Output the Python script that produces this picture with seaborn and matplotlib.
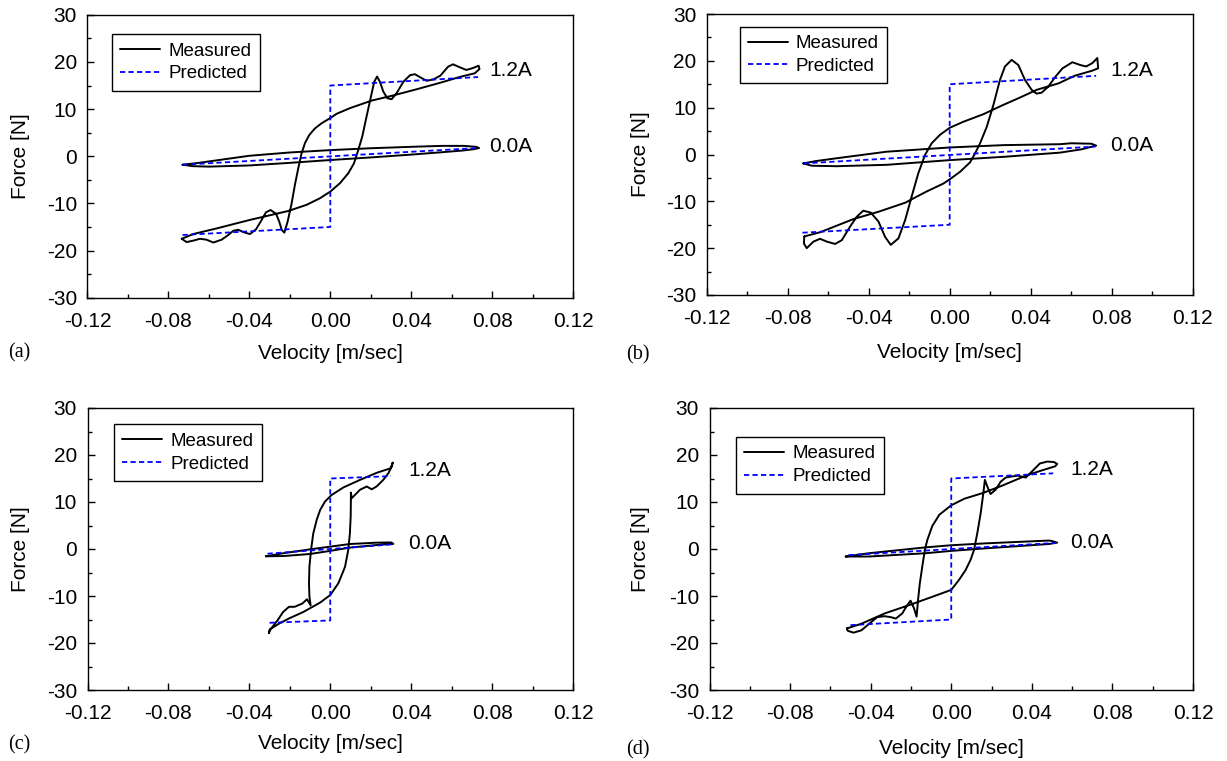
import matplotlib
matplotlib.use("Agg")
import matplotlib.pyplot as plt
from matplotlib.ticker import MultipleLocator, FormatStrFormatter
import seaborn as sns

# ---------------- panel (a): amplitude 0.073 m/s ----------------
a_meas12_v = [-0.0734, -0.0677, -0.0561, -0.0397, -0.0207, -0.0117, -0.0051, 0.0, 0.0048, 0.0089,
              0.0117, 0.0138, 0.0158, 0.0179, 0.0201, 0.0217, 0.0231, 0.0245, 0.0262, 0.0282,
              0.0303, 0.0328, 0.0361, 0.0394, 0.0418, 0.0446, 0.0476, 0.0509, 0.0544, 0.0582,
              0.0606, 0.0638, 0.0672, 0.0704, 0.0733, 0.0737,
              0.0714, 0.0638, 0.0544, 0.0426, 0.0311, 0.0204, 0.0097, 0.0031, 0.0, -0.0043,
              -0.0076, -0.0104, -0.0125, -0.0142, -0.0158, -0.0175, -0.0191, -0.0211, -0.0227, -0.0240,
              -0.0252, -0.0268, -0.0295, -0.0318, -0.0339, -0.0367, -0.0397, -0.0422, -0.0455, -0.0479,
              -0.0504, -0.0537, -0.0578, -0.0611, -0.0644, -0.0677, -0.0710, -0.0734]
a_meas12_f = [-17.5, -16.5, -15.3, -13.5, -11.6, -10.3, -8.9, -7.5, -5.7, -3.6,
              -1.5, 1.3, 4.2, 8.4, 12.7, 15.8, 16.9, 15.8, 13.7, 12.3,
              12.1, 13.4, 15.8, 17.2, 17.4, 16.7, 16.0, 16.3, 17.1, 19.0,
              19.5, 18.9, 18.3, 18.7, 19.2, 18.5,
              17.6, 16.8, 15.6, 14.2, 12.9, 11.8, 10.2, 9.0, 8.1, 7.0,
              5.9, 4.5, 2.8, 0.6, -2.5, -6.1, -10.0, -13.9, -16.2, -15.6,
              -13.9, -12.2, -11.4, -11.9, -13.5, -15.5, -16.5, -16.2, -15.6, -15.8,
              -16.7, -17.7, -18.3, -17.7, -17.5, -17.9, -18.2, -17.5]
a_meas00_v = [-0.0730, -0.068, -0.060, -0.040, -0.020, 0.0, 0.020, 0.040, 0.055, 0.065, 0.071, 0.0735,
              0.072, 0.066, 0.055, 0.040, 0.020, 0.0, -0.020, -0.040, -0.055, -0.065, -0.0730]
a_meas00_f = [-1.8, -2.1, -2.2, -1.95, -1.4, -0.8, -0.25, 0.35, 0.85, 1.2, 1.5, 1.75,
              2.0, 2.2, 2.2, 2.0, 1.7, 1.3, 0.8, 0.1, -0.8, -1.4, -1.8]
a_pred12_v = [-0.073, 0.0, 0.0, 0.073]
a_pred12_f = [-16.7, -15.0, 15.0, 16.8]
a_pred00_v = [-0.073, 0.073]
a_pred00_f = [-1.8, 1.75]

# ---------------- panel (b): amplitude 0.072 m/s ----------------
b_meas12_v = [-0.0718, -0.0640, -0.0476, -0.0350, -0.0220, -0.0114, -0.0031, 0.0, 0.0051, 0.0100,
              0.0125, 0.0150, 0.0183, 0.0216, 0.0248, 0.0273, 0.0306, 0.0339, 0.0372, 0.0405,
              0.0429, 0.0454, 0.0487, 0.0520, 0.0557, 0.0606, 0.0645, 0.0674, 0.0704, 0.0729, 0.0733,
              0.0704, 0.0616, 0.0538, 0.0429, 0.0344, 0.0265, 0.0166, 0.0068, 0.0, -0.0048,
              -0.0089, -0.0122, -0.0155, -0.0188, -0.0220, -0.0253, -0.0291, -0.0319, -0.0352, -0.0390,
              -0.0427, -0.0459, -0.0492, -0.0533, -0.0566, -0.0607, -0.0640, -0.0673, -0.0706, -0.0720,
              -0.0718]
b_meas12_f = [-17.5, -16.6, -13.8, -12.2, -10.3, -7.9, -6.2, -5.3, -3.7, -1.7,
              0.2, 2.4, 5.9, 10.6, 15.9, 18.8, 20.2, 19.1, 15.9, 13.8,
              13.0, 13.2, 14.5, 16.5, 18.4, 19.7, 19.1, 18.8, 19.5, 20.6, 18.4,
              17.9, 16.8, 15.2, 13.8, 12.1, 10.6, 8.6, 7.0, 5.7, 4.2,
              2.4, -0.1, -4.0, -9.0, -14.0, -17.9, -19.3, -17.6, -14.3, -12.4,
              -12.0, -13.3, -15.4, -18.3, -19.1, -18.6, -18.0, -18.6, -20.0, -19.0,
              -17.5]
b_meas00_v = [-0.0723, -0.068, -0.0558, -0.031, 0.0, 0.0265, 0.0545, 0.065, 0.0723,
              0.070, 0.060, 0.0545, 0.0265, 0.0, -0.0311, -0.0558, -0.066, -0.0723]
b_meas00_f = [-1.9, -2.4, -2.5, -2.2, -1.2, -0.5, 0.4, 1.1, 1.9,
              2.3, 2.4, 2.2, 2.0, 1.5, 0.6, -0.8, -1.4, -1.9]
b_pred12_v = [-0.0727, 0.0, 0.0, 0.0723]
b_pred12_f = [-16.7, -15.0, 15.0, 16.8]
b_pred00_v = [-0.072, 0.072]
b_pred00_f = [-1.9, 1.7]

# ---------------- panel (c): amplitude 0.031 m/s ----------------
c_meas12_v = [-0.0303, -0.0299, -0.0250, -0.0200, -0.0133, -0.0050, 0.0, 0.0040, 0.0073, 0.0089,
              0.0097, 0.0101, 0.0102, 0.0102, 0.0106, 0.0122, 0.0147, 0.0180, 0.0205, 0.0229,
              0.0262, 0.0287, 0.0303, 0.0309,
              0.0300, 0.0229, 0.0147, 0.0065, 0.0007, -0.0026, -0.0050, -0.0067, -0.0084, -0.0095,
              -0.0103, -0.0105, -0.0103, -0.0097, -0.0115, -0.0138, -0.0176, -0.0204, -0.0233, -0.0261,
              -0.0299, -0.0303]
c_meas12_f = [-17.9, -17.1, -15.8, -14.7, -13.4, -11.4, -9.8, -7.3, -3.8, -0.2,
              3.3, 6.9, 10.4, 12.0, 10.8, 11.5, 12.6, 13.3, 12.7, 13.3,
              14.7, 16.1, 17.5, 18.4,
              17.2, 16.2, 14.7, 13.1, 11.5, 10.1, 8.3, 6.2, 3.3, -0.2,
              -3.8, -7.3, -10.1, -12.0, -10.7, -11.6, -12.3, -12.3, -13.4, -15.2,
              -17.3, -17.9]
c_meas00_v = [-0.0318, -0.0232, -0.010, 0.0, 0.0097, 0.023, 0.0312,
              0.030, 0.023, 0.0097, 0.0, -0.010, -0.0232, -0.0318]
c_meas00_f = [-1.55, -1.5, -1.06, -0.4, 0.3, 0.85, 1.1,
              1.4, 1.35, 1.06, 0.5, -0.07, -0.9, -1.55]
c_pred12_v = [-0.030, 0.0, 0.0, 0.030]
c_pred12_f = [-15.7, -15.2, 15.0, 15.5]
c_pred00_v = [-0.031, 0.031]
c_pred00_f = [-1.0, 1.0]

# ---------------- panel (d): amplitude 0.052 m/s ----------------
d_meas12_v = [-0.0518, -0.0446, -0.0330, -0.0213, -0.0096, 0.0, 0.0038, 0.0071, 0.0096, 0.0113,
              0.0129, 0.0146, 0.0159, 0.0167, 0.0179, 0.0195, 0.0220, 0.0245, 0.0270, 0.0295,
              0.0331, 0.0370, 0.0410, 0.0440, 0.0477, 0.0510, 0.0526,
              0.0516, 0.0448, 0.0370, 0.0254, 0.0156, 0.0065, 0.0, -0.0059, -0.0094, -0.0119,
              -0.0131, -0.0144, -0.0156, -0.0165, -0.0172, -0.0185, -0.0202, -0.0218, -0.0243, -0.0275,
              -0.0300, -0.0330, -0.0368, -0.0407, -0.0446, -0.0485, -0.0514, -0.0518]
d_meas12_f = [-16.9, -15.9, -13.7, -12.0, -10.2, -8.7, -6.6, -4.5, -2.3, -0.2,
              3.3, 7.6, 11.8, 14.7, 13.3, 11.7, 12.6, 14.3, 15.2, 15.4,
              15.6, 15.2, 16.9, 18.2, 18.6, 18.5, 18.1,
              17.6, 16.7, 15.6, 13.5, 11.9, 10.7, 9.3, 7.3, 4.9, 1.9,
              -0.2, -3.8, -7.3, -10.9, -14.4, -12.6, -11.0, -11.9, -13.7, -14.8,
              -14.5, -14.3, -14.5, -15.9, -17.3, -17.8, -17.4, -16.9]
d_meas00_v = [-0.0524, -0.0409, -0.0127, 0.0, 0.017, 0.0485, 0.0526,
              0.050, 0.0485, 0.017, 0.0, -0.0127, -0.0409, -0.0524]
d_meas00_f = [-1.6, -1.6, -0.9, -0.4, 0.14, 1.06, 1.35,
              1.7, 1.8, 1.2, 0.8, 0.35, -0.9, -1.6]
d_pred12_v = [-0.050, 0.0, 0.0, 0.0506]
d_pred12_f = [-16.2, -15.0, 15.0, 16.1]
d_pred00_v = [-0.051, 0.052]
d_pred00_f = [-1.3, 1.3]

current_labels = ["1.2A", "0.0A"]
legend_labels = ["Measured", "Predicted"]
x_label = "Velocity [m/sec]"
y_label = "Force [N]"
panel_tags = ["(a)", "(b)", "(c)", "(d)"]

# ---------------- style ----------------
sns.set_theme(style="ticks")
plt.rcParams["font.family"] = ["Liberation Sans", "DejaVu Sans"]
plt.rcParams["axes.unicode_minus"] = False
plt.rcParams["text.color"] = "black"
plt.rcParams["axes.labelcolor"] = "black"
plt.rcParams["xtick.color"] = "black"
plt.rcParams["ytick.color"] = "black"
plt.rcParams["axes.edgecolor"] = "black"

W, H = 1227, 761
fig = plt.figure(figsize=(W / 100, H / 100), dpi=100)
fig.patch.set_facecolor("white")

# axes rectangles in pixels: left, top, right, bottom
rects = [(87.4, 14.8, 573.2, 297.7),
         (706.7, 14.0, 1192.7, 295.0),
         (87.5, 408.0, 573.0, 690.0),
         (709.5, 408.0, 1193.0, 690.0)]

panels = [
    (a_meas12_v, a_meas12_f, a_meas00_v, a_meas00_f, a_pred12_v, a_pred12_f, a_pred00_v, a_pred00_f),
    (b_meas12_v, b_meas12_f, b_meas00_v, b_meas00_f, b_pred12_v, b_pred12_f, b_pred00_v, b_pred00_f),
    (c_meas12_v, c_meas12_f, c_meas00_v, c_meas00_f, c_pred12_v, c_pred12_f, c_pred00_v, c_pred00_f),
    (d_meas12_v, d_meas12_f, d_meas00_v, d_meas00_f, d_pred12_v, d_pred12_f, d_pred00_v, d_pred00_f),
]

# legend anchor (axes fraction, upper-left corner of the box)
legend_anchor = [(0.0506, 0.932), (0.068, 0.955), (0.0546, 0.942), (0.0548, 0.898)]
# current annotations (data coordinates): (x, y_high, y_low)
annot_pos = [(0.0784, 18.1, 2.0), (0.0793, 18.0, 1.9), (0.0385, 16.8, 1.1), (0.0589, 17.0, 1.4)]
# axis label centres (axes fraction)
xlabel_pos = [(0.5, -0.1955), (0.5, -0.206), (0.5, -0.188), (0.5, -0.206)]
ylabel_pos = [(-0.1367, 0.5), (-0.137, 0.5), (-0.139, 0.5), (-0.143, 0.5)]
# panel tag centres (pixels)
tag_pos = [(19, 353), (638, 355), (19, 745), (638, 750)]

black_kw = dict(color="black", linewidth=1.4, sort=False, estimator=None)
blue_kw = dict(color="blue", linewidth=1.3, sort=False, estimator=None, linestyle=(0, (2.9, 1.8)))

for i, (rect, data) in enumerate(zip(rects, panels)):
    l, t, r, b = rect
    ax = fig.add_axes([l / W, 1 - b / H, (r - l) / W, (b - t) / H])
    m12v, m12f, m00v, m00f, p12v, p12f, p00v, p00f = data

    sns.lineplot(x=m12v, y=m12f, ax=ax, **black_kw)
    sns.lineplot(x=m00v, y=m00f, ax=ax, **black_kw)
    sns.lineplot(x=p12v, y=p12f, ax=ax, **blue_kw)
    sns.lineplot(x=p00v, y=p00f, ax=ax, **blue_kw)
    for ln in ax.lines:
        ln.set_solid_joinstyle("round")

    ax.set_xlim(-0.12, 0.12)
    ax.set_ylim(-30, 30)
    ax.xaxis.set_major_locator(MultipleLocator(0.04))
    ax.xaxis.set_minor_locator(MultipleLocator(0.02))
    ax.yaxis.set_major_locator(MultipleLocator(10))
    ax.yaxis.set_minor_locator(MultipleLocator(5))
    ax.xaxis.set_major_formatter(FormatStrFormatter("%.2f"))
    ax.yaxis.set_major_formatter(FormatStrFormatter("%d"))
    ax.tick_params(which="both", direction="in", top=False, right=False, width=1.0, color="black")
    ax.tick_params(which="major", length=5, labelsize=15)
    ax.tick_params(which="minor", length=3)
    ax.tick_params(axis="x", which="major", pad=10)
    ax.tick_params(axis="y", which="major", pad=7.5)
    for sp in ax.spines.values():
        sp.set_visible(True)
        sp.set_color("black")
        sp.set_linewidth(1.0)
    ax.set_facecolor("white")

    ax.set_xlabel(x_label, fontsize=15)
    ax.set_ylabel(y_label, fontsize=15)
    ax.xaxis.set_label_coords(*xlabel_pos[i])
    ax.yaxis.set_label_coords(*ylabel_pos[i])
    ax.xaxis.label.set_verticalalignment("center")
    ax.yaxis.label.set_verticalalignment("center")

    ax_x, y_hi, y_lo = annot_pos[i]
    ax.text(ax_x, y_hi, current_labels[0], fontsize=15, ha="left", va="center")
    ax.text(ax_x, y_lo, current_labels[1], fontsize=15, ha="left", va="center")

    handles = [ax.lines[0], ax.lines[2]]
    leg = ax.legend(handles, legend_labels, loc="upper left", bbox_to_anchor=legend_anchor[i],
                    borderaxespad=0, fontsize=13.5, frameon=True, fancybox=False,
                    edgecolor="black", framealpha=1, borderpad=0.45, handlelength=2.1,
                    handletextpad=0.45, labelspacing=0.3)
    leg.get_frame().set_linewidth(1.0)

    tx, ty = tag_pos[i]
    fig.text(tx / W, 1 - ty / H, panel_tags[i], fontsize=14.5, ha="center", va="center",
             family=["Liberation Serif", "DejaVu Serif"])

fig.savefig("out.png", dpi=100, facecolor="white")
